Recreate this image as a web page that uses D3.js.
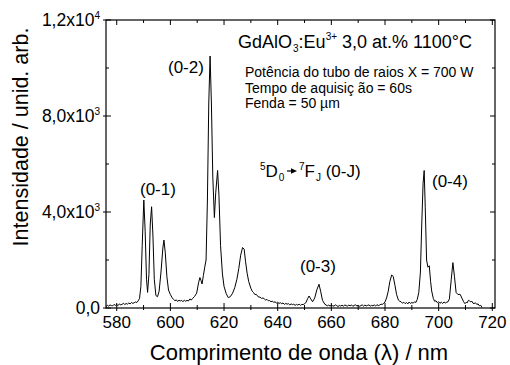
<!DOCTYPE html>
<html>
<head>
<meta charset="utf-8">
<script src="https://cdn.jsdelivr.net/npm/d3@7/dist/d3.min.js"></script>
<style>
  body { margin: 0; background: #fff; }
  svg { font-family: "Liberation Sans", Arial, sans-serif; }
</style>
</head>
<body>
<svg id="chart"></svg>
<script>
(function (d3) {
    'use strict';

    // spectrum: [wavelength nm, intensity]
    var spectrum = [
        [576, 60], [576.5, 110], [577, 80], [577.5, 130], [578, 100], [578.5, 90], [579, 150],
        [579.5, 110], [580, 140], [580.5, 100], [581, 170], [581.5, 130], [582, 150], [582.5, 200],
        [583, 140], [583.5, 190], [584, 160], [584.5, 210], [585, 170], [585.5, 230], [586, 190],
        [586.5, 220], [587, 250], [587.5, 230], [588, 300], [588.5, 400],
        [589, 900], [589.5, 2600], [590.1, 4500], [590.6, 3200], [591.1, 1200], [591.5, 650],
        [592, 1400], [592.5, 3500], [593, 4220], [593.5, 3000], [594, 1200], [594.6, 520],
        [595.2, 470], [595.8, 700], [596.5, 1500], [597.2, 2500], [597.6, 2830], [598.1, 2300],
        [598.7, 1300], [599.3, 750], [600, 560], [600.7, 420], [601.2, 360], [601.7, 300],
        [602.2, 340], [602.7, 270], [603.2, 330], [603.7, 290], [604.2, 320], [604.7, 260],
        [605.2, 330], [605.7, 280], [606.2, 320], [606.7, 290], [607.3, 380], [607.8, 330],
        [608.3, 400], [609, 480], [609.8, 620], [610.5, 1050], [611, 1270], [611.4, 1150], [611.8, 1000],
        [612.3, 1350], [612.8, 1700], [613.3, 2000], [613.8, 4500], [614.3, 8500], [614.8, 10500],
        [615.3, 8500], [615.8, 5500], [616.4, 3770], [616.9, 4800], [617.6, 5730], [618.1, 4700],
        [618.7, 2600], [619.4, 1420], [620, 900], [620.8, 600], [621.6, 430], [622.4, 480],
        [623.2, 620], [624, 850], [624.8, 1200], [625.5, 1650], [626.2, 2200], [626.9, 2520],
        [627.5, 2450], [628, 1950], [628.6, 1450], [629.2, 1100], [630, 820], [630.5, 700],
        [631, 640], [631.5, 560], [632, 570], [632.7, 470], [633.4, 450], [634, 400], [634.5, 420],
        [635, 380], [635.5, 330], [636, 360], [636.5, 300], [637, 310], [637.5, 260], [638, 290],
        [638.5, 230], [639, 260], [639.5, 210], [640, 240], [640.5, 190], [641, 220], [641.5, 180],
        [642, 210], [642.5, 150], [643, 190], [643.5, 160], [644, 180], [644.5, 130], [645, 170],
        [645.5, 140], [646, 160], [646.5, 110], [647, 150], [647.5, 120], [648, 160], [648.5, 110],
        [649, 150], [649.5, 140], [650, 180], [650.5, 220],
        [651.2, 400], [651.7, 500], [652.3, 380], [653, 260], [653.8, 420], [654.6, 760],
        [655.4, 990], [656, 700], [656.7, 320], [657.6, 150], [658, 130], [658.5, 90], [659, 120],
        [659.5, 80], [660, 120], [660.5, 90], [661, 80], [661.5, 130], [662, 100], [662.5, 60],
        [663, 110], [663.5, 80], [664, 120], [664.5, 70], [665, 130], [665.5, 100], [666, 80],
        [666.5, 120], [667, 90], [667.5, 130], [668, 70], [668.5, 110], [669, 130], [669.5, 90],
        [670, 110], [670.5, 70], [671, 100], [671.5, 130], [672, 80], [672.5, 120], [673, 90],
        [673.5, 110], [674, 130], [674.5, 80], [675, 110], [675.5, 90], [676, 130], [676.5, 80],
        [677, 140], [677.5, 100], [678, 120], [678.5, 160], [679, 150], [679.5, 190], [680, 250],
        [680.6, 420], [681.2, 700], [681.8, 1100], [682.5, 1380], [683.1, 1300], [683.7, 950],
        [684.3, 570], [685, 330], [685.5, 280], [686, 260], [686.5, 200], [687, 240], [687.5, 180],
        [688, 230], [688.5, 170], [689, 250], [689.5, 190], [690, 230], [690.5, 200], [691, 260],
        [691.5, 230], [692, 350], [692.6, 650], [693.2, 1500], [693.7, 3500], [694.2, 5200],
        [694.6, 5730], [695, 4200], [695.5, 2000], [696, 1700], [696.5, 1760], [697, 1100],
        [697.4, 710], [698, 400], [698.5, 280], [699, 300], [699.5, 220], [700, 260], [700.5, 200],
        [701, 240], [701.5, 190], [702, 250], [702.5, 210], [703, 240], [703.5, 260],
        [704, 380], [704.7, 1200], [705.3, 1890], [705.9, 1300], [706.5, 650], [707.2, 560],
        [708, 570], [708.8, 380], [709.3, 260], [709.8, 180], [710.3, 240], [710.6, 210],
        [711.1, 320], [711.5, 300], [712, 250], [712.3, 290], [712.8, 200], [713.2, 180],
        [713.7, 220], [714.2, 150], [714.7, 170], [715.2, 90], [715.7, 110], [716.2, 20]
    ];

    var xMajor = [580, 600, 620, 640, 660, 680, 700, 720],
        xMinor = [590, 610, 630, 650, 670, 690, 710],
        yMajor = [0, 4000, 8000, 12000],
        yMinor = [2000, 6000, 10000];

    var yLabels = [
        { base: '0,0', exp: '' },
        { base: '4,0x10', exp: '3' },
        { base: '8,0x10', exp: '3' },
        { base: '1,2x10', exp: '4' }
    ];

    var peakLabels = [
        { text: '(0-1)', x: 140, y: 195 },
        { text: '(0-2)', x: 168, y: 73 },
        { text: '(0-3)', x: 300, y: 272 },
        { text: '(0-4)', x: 432, y: 187 }
    ];

    var width = 510,
        height = 365,
        margin = { top: 20, right: 15, bottom: 58, left: 106 };

    var x = d3.scaleLinear().domain([576, 721]).range([margin.left, width - margin.right]),
        y = d3.scaleLinear().domain([0, 12000]).range([height - margin.bottom + 1, margin.top]);

    var svg = d3.select('#chart')
        .attr('width', width)
        .attr('height', height);

    var x0 = x.range()[0], x1 = x.range()[1],
        yb = height - margin.bottom + 1, yt = margin.top;

    // spectrum line
    var line = d3.line()
        .x(function (d) { return x(d[0]); })
        .y(function (d) { return y(d[1]); });

    svg.append('path')
        .datum(spectrum)
        .attr('fill', 'none')
        .attr('stroke', '#000')
        .attr('stroke-width', 1)
        .attr('stroke-linejoin', 'round')
        .attr('d', line);

    // frame
    svg.append('rect')
        .attr('x', x0)
        .attr('y', yt)
        .attr('width', x1 - x0)
        .attr('height', yb - yt)
        .attr('fill', 'none')
        .attr('stroke', '#000')
        .attr('stroke-width', 1.2);

    var ticks = svg.append('g').attr('stroke', '#000').attr('stroke-width', 1);

    function xTicks(vals, inner, outer) {
        vals.forEach(function (v) {
            var px = x(v);
            ticks.append('line').attr('x1', px).attr('x2', px).attr('y1', yb + outer).attr('y2', yb - inner);
            ticks.append('line').attr('x1', px).attr('x2', px).attr('y1', yt).attr('y2', yt + inner);
        });
    }
    function yTicks(vals, inner, outer) {
        vals.forEach(function (v) {
            var py = y(v);
            ticks.append('line').attr('y1', py).attr('y2', py).attr('x1', x0 - outer).attr('x2', x0 + inner);
            ticks.append('line').attr('y1', py).attr('y2', py).attr('x1', x1).attr('x2', x1 - inner);
        });
    }
    xTicks(xMajor, 5, 3);
    xTicks(xMinor, 3, 2);
    yTicks(yMajor, 5, 3);
    yTicks(yMinor, 3, 0);

    // x tick labels
    svg.append('g').selectAll('text')
        .data(xMajor)
        .enter()
        .append('text')
        .attr('x', function (d) { return x(d); })
        .attr('y', yb + 20)
        .attr('text-anchor', 'middle')
        .attr('font-size', 17)
        .text(function (d) { return d; });

    // y tick labels
    var yl = svg.append('g').selectAll('text')
        .data(yMajor)
        .enter()
        .append('text')
        .attr('x', x0 - 6)
        .attr('y', function (d) { return y(d); })
        .attr('dy', '0.35em')
        .attr('text-anchor', 'end')
        .attr('font-size', 17.5);
    yl.append('tspan').text(function (d, i) { return yLabels[i].base; });
    yl.append('tspan')
        .attr('font-size', 10)
        .attr('dy', -7)
        .text(function (d, i) { return yLabels[i].exp; });

    // axis titles
    svg.append('text')
        .attr('x', 299)
        .attr('y', 360)
        .attr('text-anchor', 'middle')
        .attr('font-size', 22)
        .text('Comprimento de onda (\u03bb) / nm');

    svg.append('text')
        .attr('transform', 'translate(28,137) rotate(-90)')
        .attr('text-anchor', 'middle')
        .attr('font-size', 21.5)
        .text('Intensidade / unid. arb.');

    // sample annotation
    var title = svg.append('text').attr('x', 238).attr('y', 48).attr('font-size', 18);
    title.append('tspan').text('GdAlO');
    title.append('tspan').attr('font-size', 10).attr('dx', 1).attr('dy', 4).text('3');
    title.append('tspan').attr('dy', -4).text(':Eu');
    title.append('tspan').attr('font-size', 10).attr('dy', -8).text('3+');
    title.append('tspan').attr('dy', 8).text(' 3,0 at.% 1100\u00b0C');

    var notes = ['Pot\u00eancia do tubo de raios X = 700 W', 'Tempo de aquisi\u00e7 \u00e3o = 60s', 'Fenda = 50 \u00b5m'];
    svg.append('g').selectAll('text')
        .data(notes)
        .enter()
        .append('text')
        .attr('x', 245)
        .attr('y', function (d, i) { return 77 + i * 15.5; })
        .attr('font-size', 14)
        .text(function (d) { return d; });

    // peak labels
    svg.append('g').selectAll('text')
        .data(peakLabels)
        .enter()
        .append('text')
        .attr('x', function (d) { return d.x; })
        .attr('y', function (d) { return d.y; })
        .attr('font-size', 17)
        .text(function (d) { return d.text; });

    // transition label 5D0 -> 7FJ (0-J)
    var t1 = svg.append('text').attr('x', 260).attr('y', 177).attr('font-size', 17);
    t1.append('tspan').attr('font-size', 10).attr('dy', -7).text('5');
    t1.append('tspan').attr('dy', 7).text('D');
    t1.append('tspan').attr('font-size', 10).attr('dx', 1).attr('dy', 4).text('0');

    svg.append('line')
        .attr('x1', 287).attr('x2', 293).attr('y1', 171).attr('y2', 171)
        .attr('stroke', '#000').attr('stroke-width', 1.2);
    svg.append('path')
        .attr('d', 'M291,168.3 L297,171 L291,173.7 Z')
        .attr('fill', '#000');

    var t2 = svg.append('text').attr('x', 299).attr('y', 177).attr('font-size', 17);
    t2.append('tspan').attr('font-size', 10).attr('dy', -7).text('7');
    t2.append('tspan').attr('dy', 7).text('F');
    t2.append('tspan').attr('font-size', 10).attr('dx', 1).attr('dy', 4).text('J');
    t2.append('tspan').attr('dy', -4).text(' (0-J)');

})(window.d3);
</script>
</body>
</html>
